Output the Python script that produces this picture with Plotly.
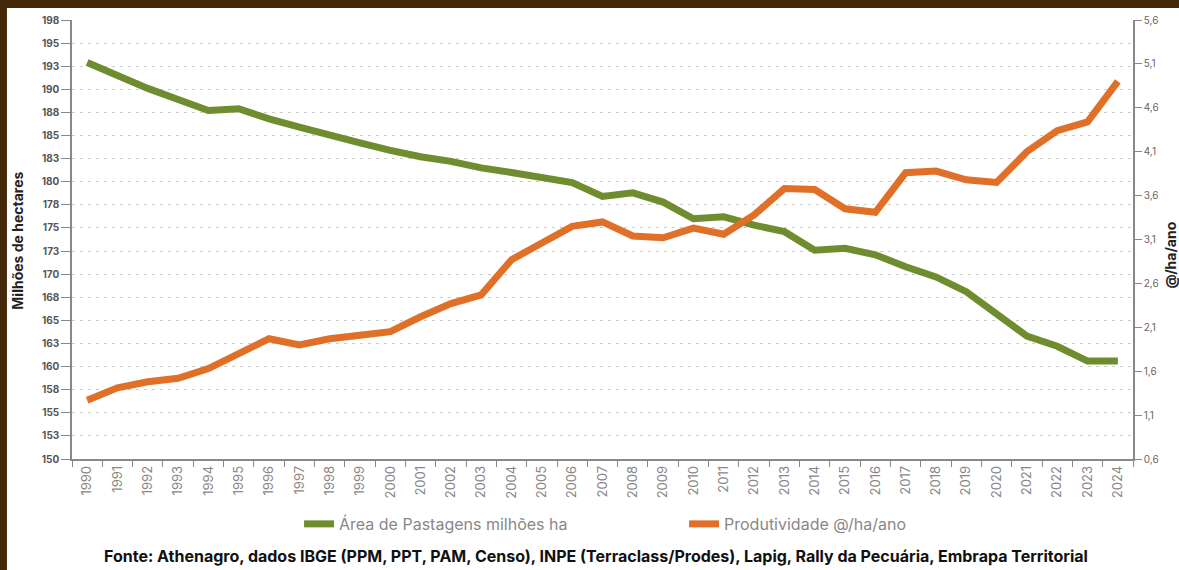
import plotly.graph_objects as go

# dados
anos = [str(a) for a in range(1990, 2025)]

area_pastagens = [192.9, 191.4, 190.1, 188.9, 187.7, 187.9, 186.8, 185.9, 185.0, 184.2,
                  183.4, 182.7, 182.2, 181.5, 181.0, 180.5, 179.9, 178.4, 178.8, 177.8,
                  176.0, 176.2, 175.3, 174.6, 172.6, 172.8, 172.1, 170.8, 169.7, 168.1,
                  165.6, 163.3, 162.2, 160.6, 160.6]

produtividade = [1.27, 1.41, 1.48, 1.52, 1.63, 1.80, 1.97, 1.90, 1.97, 2.01,
                 2.05, 2.22, 2.37, 2.47, 2.87, 3.06, 3.25, 3.30, 3.14, 3.12,
                 3.23, 3.16, 3.38, 3.68, 3.67, 3.45, 3.41, 3.86, 3.88, 3.78,
                 3.75, 4.10, 4.34, 4.44, 4.90]

ticks_esq = [150, 152.5, 155, 157.5, 160, 162.5, 165, 167.5, 170, 172.5,
             175, 177.5, 180, 182.5, 185, 187.5, 190, 192.5, 195, 197.5]
rotulos_esq = ['150', '153', '155', '158', '160', '163', '165', '168', '170', '173',
               '175', '178', '180', '183', '185', '188', '190', '193', '195', '198']

VERDE = '#6f8d2f'
LARANJA = '#e06f27'
MARROM = '#45280a'

fig = go.Figure()
fig.add_trace(go.Scatter(x=anos, y=area_pastagens, name='Área de Pastagens milhões ha',
                         mode='lines', line=dict(color=VERDE, width=7)))
fig.add_trace(go.Scatter(x=anos, y=produtividade, name='Produtividade @/ha/ano',
                         mode='lines', line=dict(color=LARANJA, width=7), yaxis='y2'))

fig.update_layout(
    width=1179, height=570,
    margin=dict(l=72, r=46, t=20, b=111),
    paper_bgcolor='white', plot_bgcolor='white',
    font=dict(family='Inter', color='#555'),
    separators=',.',
    showlegend=True,
    legend=dict(orientation='h', x=0.214, y=-0.148, xanchor='left', yanchor='middle',
                font=dict(size=16, color='#888'), entrywidth=340, entrywidthmode='pixels'),
    xaxis=dict(type='category', range=[-0.5, 34.5], tickangle=-90, tickson='boundaries',
               ticks='outside', ticklen=6, tickcolor='#888', showline=True,
               linecolor='#888', linewidth=1.5, showgrid=False,
               tickfont=dict(size=13, color='#888')),
    yaxis=dict(range=[150, 197.5], tickvals=ticks_esq, ticktext=rotulos_esq,
               ticks='outside', ticklen=9, tickcolor='#888', showline=True,
               linecolor='#888', linewidth=1.5, showgrid=True, gridcolor='#ccc',
               griddash='3px,5px', gridwidth=1, zeroline=False,
               tickfont=dict(size=10, color='#555', weight='bold')),
    yaxis2=dict(range=[0.6, 5.6], dtick=0.5, tick0=0.6, tickformat='.1f',
                overlaying='y', side='right', ticks='outside', ticklen=7,
                tickcolor='#888', showline=True, linecolor='#888', linewidth=1.5,
                showgrid=False, zeroline=False, tickfont=dict(size=10, color='#666')),
    shapes=[
        dict(type='rect', xref='paper', yref='paper', x0=-0.07, x1=1.05,
             y0=1.0273, y1=1.05, fillcolor=MARROM, line=dict(width=0), layer='above'),
        dict(type='rect', xref='paper', yref='paper', x0=-0.07, x1=-0.0613,
             y0=-0.26, y1=1.05, fillcolor=MARROM, line=dict(width=0), layer='above'),
    ],
    annotations=[
        dict(text='<b>Milhões de hectares</b>', xref='paper', yref='paper',
             x=-0.051, y=0.497, xanchor='center', yanchor='middle', textangle=-90,
             showarrow=False, font=dict(size=14, color='#222')),
        dict(text='<b>@/ha/ano</b>', xref='paper', yref='paper',
             x=1.0355, y=0.465, xanchor='center', yanchor='middle', textangle=-90,
             showarrow=False, font=dict(size=14, color='#222')),
        dict(text='<b>Fonte: Athenagro, dados IBGE (PPM, PPT, PAM, Censo), INPE (Terraclass/Prodes), '
                  'Lapig, Rally da Pecuária, Embrapa Territorial</b>',
             xref='paper', yref='paper', x=0.494, y=-0.221, xanchor='center', yanchor='middle',
             showarrow=False, font=dict(size=16, color='#111')),
    ],
)

fig.write_html('out.html', config={'displayModeBar': False},
               post_script="document.body.style.margin='0';")
